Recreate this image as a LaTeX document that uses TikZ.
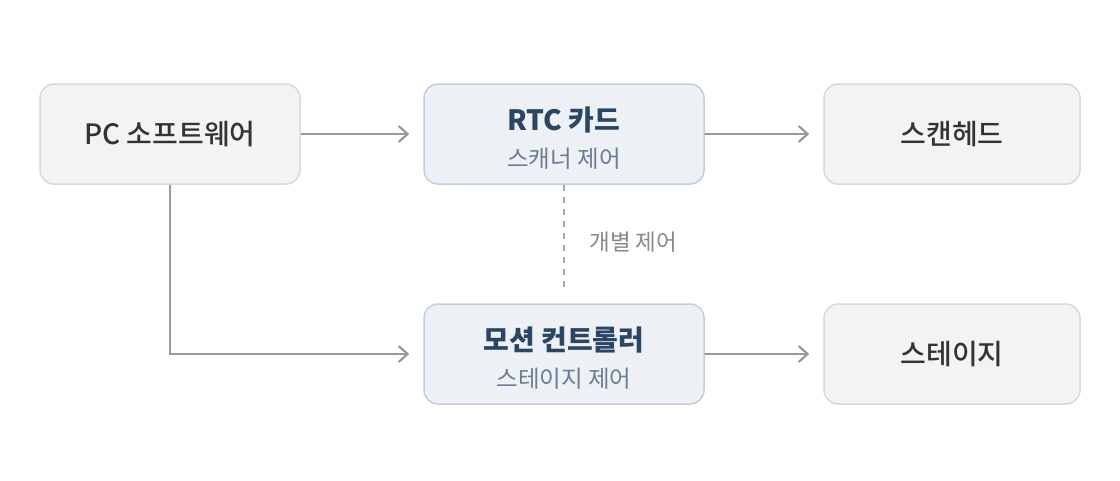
\documentclass[tikz,border=0pt]{standalone}
\usepackage{fontspec}
\setmainfont{Noto Sans CJK KR}
\newfontfamily\krmed{Noto Sans CJK KR Medium}
\usetikzlibrary{arrows.meta}
\definecolor{plainfill}{HTML}{F3F3F3}
\definecolor{plainline}{HTML}{D9D9D9}
\definecolor{hifill}{HTML}{EDF1F6}
\definecolor{hiline}{HTML}{C2CEDC}
\definecolor{arrowc}{HTML}{999999}
\definecolor{titlec}{HTML}{2B4563}
\definecolor{subc}{HTML}{6A7D94}
\definecolor{textc}{HTML}{333333}
\definecolor{labelc}{HTML}{888888}
\tikzset{
  plainbox/.style={draw=plainline, fill=plainfill, line width=1.5pt, rounded corners=14pt,
    minimum width=256pt, minimum height=100pt, text=textc, font=\krmed\fontsize{28}{34}\selectfont},
  hibox/.style={draw=hiline, fill=hifill, line width=1.5pt, rounded corners=14pt,
    minimum width=280pt, minimum height=100pt, align=center, text=titlec,
    font=\fontsize{28}{37}\selectfont},
  arr/.style={draw=arrowc, line width=2.2pt, -{Straight Barb[length=9pt,width=16pt,line width=2.2pt]}, shorten >=14pt},
  dashline/.style={draw=arrowc!85, line width=2pt, dash pattern=on 6pt off 6pt},
  lbl/.style={text=labelc, font=\fontsize{22.5}{26}\selectfont, anchor=west}
}
\newcommand{\twoline}[2]{\rule{0pt}{32pt}{\bfseries #1}\\{\color{subc}\fontsize{23.5}{28}\selectfont #2}}
\begin{document}
\begin{tikzpicture}[x=1pt,y=-1pt]
\useasboundingbox (0,0) rectangle (1120,480);
\node[plainbox, minimum width=260pt] (pc) at (170,134) {PC 소프트웨어};
\node[hibox] (rtc) at (564,134) {\twoline{RTC 카드}{스캐너 제어}};
\node[plainbox] (scan) at (952,134) {스캔헤드};
\node[hibox] (motion) at (564,354) {\twoline{모션 컨트롤러}{스테이지 제어}};
\node[plainbox] (stage) at (952,354) {스테이지};
\draw[arr] (pc) -- (rtc);
\draw[arr] (rtc) -- (scan);
\draw[arr] (motion) -- (stage);
\draw[arr] (pc.south) |- (motion.west);
\draw[dashline, shorten >=16pt] (rtc.south) -- (motion.north);
\node[lbl] (indiv) at (586,242) {개별 제어};
\end{tikzpicture}
\end{document}
